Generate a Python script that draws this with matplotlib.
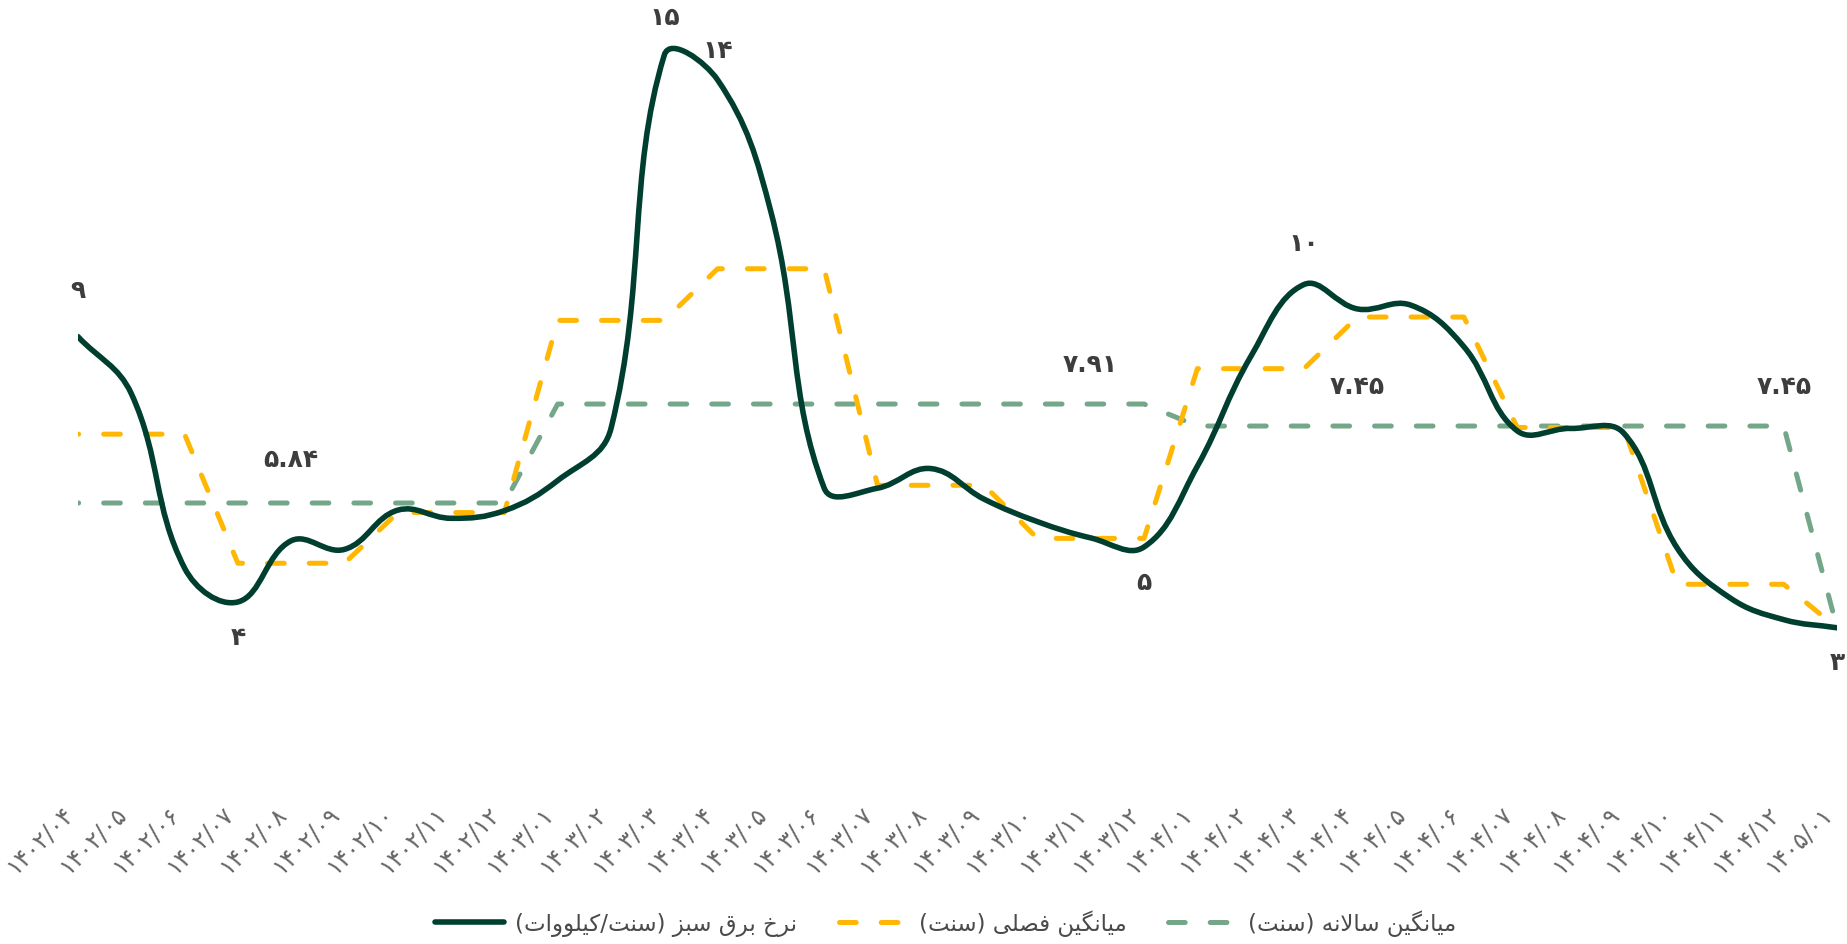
import numpy as np
import matplotlib.pyplot as plt
from matplotlib.path import Path
from matplotlib.patches import PathPatch
from matplotlib.lines import Line2D

plt.rcParams['font.family'] = ['DejaVu Sans']

months = ['۱۴۰۲/۰۴', '۱۴۰۲/۰۵', '۱۴۰۲/۰۶', '۱۴۰۲/۰۷', '۱۴۰۲/۰۸', '۱۴۰۲/۰۹',
          '۱۴۰۲/۱۰', '۱۴۰۲/۱۱', '۱۴۰۲/۱۲', '۱۴۰۳/۰۱', '۱۴۰۳/۰۲', '۱۴۰۳/۰۳',
          '۱۴۰۳/۰۴', '۱۴۰۳/۰۵', '۱۴۰۳/۰۶', '۱۴۰۳/۰۷', '۱۴۰۳/۰۸', '۱۴۰۳/۰۹',
          '۱۴۰۳/۱۰', '۱۴۰۳/۱۱', '۱۴۰۳/۱۲', '۱۴۰۴/۰۱', '۱۴۰۴/۰۲', '۱۴۰۴/۰۳',
          '۱۴۰۴/۰۴', '۱۴۰۴/۰۵', '۱۴۰۴/۰۶', '۱۴۰۴/۰۷', '۱۴۰۴/۰۸', '۱۴۰۴/۰۹',
          '۱۴۰۴/۱۰', '۱۴۰۴/۱۱', '۱۴۰۴/۱۲', '۱۴۰۵/۰۱']

# monthly green electricity rate (cent/kWh)
rate = [9.32, 8.13, 4.48, 3.77, 5.05, 4.87, 5.69, 5.52, 5.68, 6.31, 7.4, 15.21,
        14.69, 11.93, 6.15, 6.15, 6.56, 5.92, 5.45, 5.11, 4.92, 6.61, 8.9, 10.41,
        9.9, 9.98, 9.11, 7.35, 7.4, 7.3, 4.9, 3.85, 3.4, 3.23]

# seasonal average
seasonal = [7.28, 7.28, 7.28, 4.58, 4.58, 4.58, 5.64, 5.64, 5.64,
            9.66, 9.66, 9.66, 10.74, 10.74, 10.74, 6.21, 6.21, 6.21,
            5.1, 5.1, 5.1, 8.65, 8.65, 8.65, 9.73, 9.73, 9.73,
            7.42, 7.42, 7.42, 4.14, 4.14, 4.14, 3.23]

# yearly average
yearly = [5.84, 5.84, 5.84, 5.84, 5.84, 5.84, 5.84, 5.84, 5.84,
          7.91, 7.91, 7.91, 7.91, 7.91, 7.91, 7.91, 7.91, 7.91, 7.91, 7.91, 7.91,
          7.45, 7.45, 7.45, 7.45, 7.45, 7.45, 7.45, 7.45, 7.45, 7.45, 7.45, 7.45,
          3.23]

point_idx = [0, 3, 11, 12, 23, 20, 33]
point_txt = ['۹', '۴', '۱۵', '۱۴', '۱۰', '۵', '۳']
point_dy = [33, -26, 27, 21, 29, -26, -25]

avg_idx = [4, 19, 24, 32]
avg_txt = ['۵.۸۴', '۷.۹۱', '۷.۴۵', '۷.۴۵']
avg_dy = [31, 28, 28, 28]

legend_txt = ['نرخ برق سبز (سنت/کیلووات)', 'میانگین فصلی (سنت)', 'میانگین سالانه (سنت)']

DARK = '#003f30'
GOLD = '#ffb703'
SAGE = '#74a68a'
TXT = '#3d3d3d'

# (isolated, final, initial, medial)
FORMS = {
    'ا': ('\ufe8d', '\ufe8e', None, None),
    'ب': ('\ufe8f', '\ufe90', '\ufe91', '\ufe92'),
    'ت': ('\ufe95', '\ufe96', '\ufe97', '\ufe98'),
    'خ': ('\ufea5', '\ufea6', '\ufea7', '\ufea8'),
    'ر': ('\ufead', '\ufeae', None, None),
    'ز': ('\ufeaf', '\ufeb0', None, None),
    'س': ('\ufeb1', '\ufeb2', '\ufeb3', '\ufeb4'),
    'ص': ('\ufeb9', '\ufeba', '\ufebb', '\ufebc'),
    'ف': ('\ufed1', '\ufed2', '\ufed3', '\ufed4'),
    'ق': ('\ufed5', '\ufed6', '\ufed7', '\ufed8'),
    'ل': ('\ufedd', '\ufede', '\ufedf', '\ufee0'),
    'م': ('\ufee1', '\ufee2', '\ufee3', '\ufee4'),
    'ن': ('\ufee5', '\ufee6', '\ufee7', '\ufee8'),
    'ه': ('\ufee9', '\ufeea', '\ufeeb', '\ufeec'),
    'و': ('\ufeed', '\ufeee', None, None),
    'ک': ('\ufb8e', '\ufb8f', '\ufb90', '\ufb91'),
    'گ': ('\ufb92', '\ufb93', '\ufb94', '\ufb95'),
    'ی': ('\ufbfc', '\ufbfd', '\ufbfe', '\ufbff'),
}
MIRROR = {'(': ')', ')': '('}


def rtl(s):
    # join letters into presentation forms and lay them out right to left
    out = []
    i = 0
    while i < len(s):
        c = s[i]
        if c not in FORMS:
            out.append(c)
            i += 1
            continue
        prev = s[i - 1] if i > 0 else ''
        nxt = s[i + 1] if i + 1 < len(s) else ''
        jp = prev in FORMS and FORMS[prev][2] is not None
        if c == 'ل' and nxt == 'ا':
            out.append('\ufefc' if jp else '\ufefb')
            i += 2
            continue
        jn = FORMS[c][2] is not None and nxt in FORMS
        iso, fin, ini, med = FORMS[c]
        if jp and jn:
            out.append(med)
        elif jp:
            out.append(fin)
        elif jn:
            out.append(ini)
        else:
            out.append(iso)
        i += 1
    return ''.join(MIRROR.get(c, c) for c in reversed(out))


def spline_path(ax, xs, ys, t=0.4):
    # chart.js style spline, control points worked out in display space
    pts = ax.transData.transform(np.column_stack([xs, ys]))
    n = len(pts)
    cprev = pts.copy()
    cnext = pts.copy()
    for i in range(n):
        p0 = pts[max(i - 1, 0)]
        p1 = pts[i]
        p2 = pts[min(i + 1, n - 1)]
        d01 = np.hypot(*(p1 - p0))
        d12 = np.hypot(*(p2 - p1))
        tot = d01 + d12
        s01 = d01 / tot if tot else 0
        s12 = d12 / tot if tot else 0
        cprev[i] = p1 - t * s01 * (p2 - p0)
        cnext[i] = p1 + t * s12 * (p2 - p0)
    verts = [pts[0]]
    codes = [Path.MOVETO]
    for k in range(n - 1):
        verts += [cnext[k], cprev[k + 1], pts[k + 1]]
        codes += [Path.CURVE4] * 3
    verts = ax.transData.inverted().transform(np.array(verts))
    return Path(verts, codes)


x = np.arange(len(months))

fig = plt.figure(figsize=(18.47, 9.44), dpi=100)
ax = fig.add_axes([0.0422, 0.1714, 0.9524, 0.8103])
ax.set_xlim(0, 33)
ax.set_ylim(0, 16)

dash = (3.2, (3.34, 5.0))
ax.plot(x, yearly, color=SAGE, lw=3.6, linestyle=dash, dash_capstyle='round',
        solid_joinstyle='round', zorder=2)
ax.plot(x, seasonal, color=GOLD, lw=3.6, linestyle=dash, dash_capstyle='round',
        solid_joinstyle='round', zorder=3)
ax.add_patch(PathPatch(spline_path(ax, x, rate), fill=False, edgecolor=DARK, lw=4,
                       capstyle='round', joinstyle='round', zorder=4))

for i, t, dy in zip(point_idx, point_txt, point_dy):
    ax.annotate(t, (x[i], rate[i]), xytext=(0, dy), textcoords='offset points',
                ha='center', va='center', fontsize=18, fontweight='bold',
                color=TXT, annotation_clip=False)

for i, t, dy in zip(avg_idx, avg_txt, avg_dy):
    ax.annotate(t, (x[i], yearly[i]), xytext=(0, dy), textcoords='offset points',
                ha='center', va='center', fontsize=18, fontweight='bold',
                color=TXT, annotation_clip=False)

ax.set_xticks(x)
ax.set_xticklabels(months, rotation=45, ha='right', va='bottom',
                   rotation_mode='anchor', fontsize=17, color='#666666')
ax.tick_params(axis='x', length=0, pad=26)
ax.set_yticks([])
for s in ax.spines.values():
    s.set_visible(False)

handles = [
    Line2D([], [], color=DARK, lw=4, solid_capstyle='round'),
    Line2D([], [], color=GOLD, lw=3.6, linestyle=(0, (3.34, 5.0)), dash_capstyle='round'),
    Line2D([], [], color=SAGE, lw=3.6, linestyle=(0, (3.34, 5.0)), dash_capstyle='round'),
]
fig.legend(handles, [rtl(s) for s in legend_txt], loc='center',
           bbox_to_anchor=(0.512, 0.022), ncol=3, frameon=False, fontsize=16.5,
           handlelength=3.0, handletextpad=0.5, columnspacing=1.8,
           labelcolor='#4a4a4a')

fig.savefig('out.png', dpi=100)
